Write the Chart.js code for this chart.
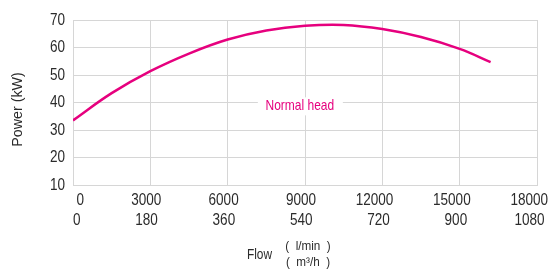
<!DOCTYPE html>
<html>
<head>
<meta charset="utf-8">
<script src="https://cdn.jsdelivr.net/npm/chart.js@4/dist/chart.umd.min.js"></script>
<style>
  html, body { margin: 0; padding: 0; background: #fff; }
  #wrap { width: 555px; height: 271px; }
</style>
</head>
<body>
<div id="wrap"><canvas id="chart"></canvas></div>
<script>
// Flow in l/min and power in kW
const flow  = [0, 1500, 3000, 4500, 6000, 7500, 9000, 10500, 12000, 13500, 15000, 16200];
const power = [33.5, 43.4, 51.4, 57.8, 62.9, 66.2, 67.9, 68.2, 66.7, 63.8, 59.5, 54.7];

// tick labels: l/min on the first row, m3/h underneath
const lminTicks = [0, 3000, 6000, 9000, 12000, 15000, 18000];
const m3hTicks  = [0, 180, 360, 540, 720, 900, 1080];
const powerTicks = [10, 20, 30, 40, 50, 60, 70];

const seriesName = 'Normal head';
const labelAt = [8800, 38.6]; // where the curve label sits, in data units

const magenta = '#e6007e';
const textGrey = '#2b2b2b';
const gridGrey = '#d6d6d6';
const sans = '"Liberation Sans", Arial, sans-serif';

// no condensed face is installed, so squeeze the regular one
function squeezed(ctx, text, x, y, size, sx, align) {
    ctx.save();
    ctx.font = size + 'px ' + sans;
    ctx.textAlign = align;
    ctx.textBaseline = 'middle';
    ctx.translate(x, y);
    ctx.scale(sx, 1);
    ctx.fillText(text, 0, 0);
    ctx.restore();
}

// tick labels, titles and the curve label are painted by hand
const extras = {
    id: 'extras',
    afterDatasetsDraw(chart) {
        const { ctx, chartArea: area, scales: { x, y } } = chart;
        ctx.save();

        // curve label on a white patch
        const px = x.getPixelForValue(labelAt[0]);
        const py = y.getPixelForValue(labelAt[1]);
        ctx.fillStyle = '#fff';
        ctx.fillRect(px - 42, py - 9, 85, 18);
        ctx.fillStyle = magenta;
        squeezed(ctx, seriesName, px, py, 15, 0.8, 'center');

        ctx.fillStyle = textGrey;
        // y ticks
        y.ticks.forEach(t => {
            squeezed(ctx, String(t.value), area.left - 8, y.getPixelForValue(t.value), 16.5, 0.82, 'right');
        });
        // x ticks, two rows
        x.ticks.forEach((t, i) => {
            const tx = x.getPixelForValue(t.value);
            squeezed(ctx, String(lminTicks[i]), tx + 11, area.bottom + 15, 16.5, 0.82, 'right');
            squeezed(ctx, String(m3hTicks[i]), tx + 7.5, area.bottom + 35, 16.5, 0.82, 'right');
        });

        // y title
        ctx.save();
        ctx.translate(18, (area.top + area.bottom) / 2 + 7);
        ctx.rotate(-Math.PI / 2);
        squeezed(ctx, 'Power (kW)', 0, 0, 15.5, 0.92, 'center');
        ctx.restore();

        // x title
        const cx = (area.left + area.right) / 2;
        squeezed(ctx, 'Flow', cx - 33, 255, 14.5, 0.82, 'right');
        squeezed(ctx, '(  l/min  )', cx + 3, 246, 13, 0.9, 'center');
        squeezed(ctx, '(  m\u00b3/h  )', cx + 3, 262, 13, 0.9, 'center');

        ctx.restore();
    }
};

new Chart(document.getElementById('chart').getContext('2d'), {
    type: 'line',
    data: {
        datasets: [{
            label: seriesName,
            data: flow.map((f, i) => ({ x: f, y: power[i] })),
            borderColor: magenta,
            borderWidth: 2.5,
            pointRadius: 0,
            fill: false,
            tension: 0.4
        }]
    },
    options: {
        responsive: true,
        maintainAspectRatio: false,
        animation: false,
        layout: { padding: { left: 0, right: 18, top: 20, bottom: 0 } },
        plugins: {
            legend: { display: false },
            tooltip: { enabled: false }
        },
        scales: {
            x: {
                type: 'linear',
                min: lminTicks[0],
                max: lminTicks[lminTicks.length - 1],
                afterBuildTicks: s => { s.ticks = lminTicks.map(v => ({ value: v })); },
                afterFit: s => { s.height = 86; },
                grid: { color: gridGrey, drawTicks: false },
                border: { color: gridGrey },
                ticks: { display: false }
            },
            y: {
                min: powerTicks[0],
                max: powerTicks[powerTicks.length - 1],
                afterBuildTicks: s => { s.ticks = powerTicks.map(v => ({ value: v })); },
                afterFit: s => { s.width = 73; },
                grid: { color: gridGrey, drawTicks: false },
                border: { color: gridGrey },
                ticks: { display: false }
            }
        }
    },
    plugins: [extras]
});
</script>
</body>
</html>
